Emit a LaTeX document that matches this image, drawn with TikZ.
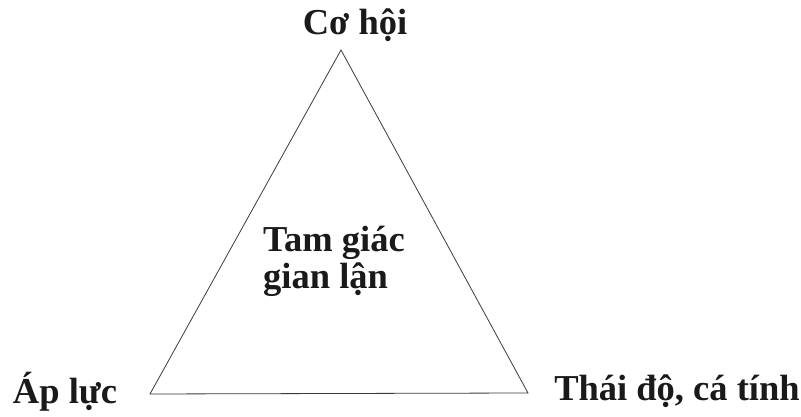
\documentclass[tikz,border=0pt]{standalone}
\usepackage{fontspec}
\setmainfont{Liberation Serif}
\usetikzlibrary{positioning}
\definecolor{ftink}{HTML}{1A1A1A}
\definecolor{ftline}{HTML}{3A3A3A}
\tikzset{
  ftlabel/.style={font=\fontsize{36.5}{37}\selectfont\bfseries, text=ftink, inner sep=0pt},
  ftcenter/.style={ftlabel, align=left},
  ftside/.style={draw=ftline, line width=0.8pt},
}
\begin{document}
\begin{tikzpicture}[x=1pt,y=1pt]
  \useasboundingbox (0,0) rectangle (801,417);
  % corners of the triangle
  \coordinate (top)   at (341,367);
  \coordinate (left)  at (150,23);
  \coordinate (right) at (528,24);
  \draw[ftside] (top) -- (left) -- (right) -- cycle;
  % corner labels
  \node[ftlabel] (coHoi)  at (355,392) {Cơ hội};
  \node[ftlabel] (apLuc)  at (65,25)   {Áp lực};
  \node[ftlabel] (thaiDo) at (677,26)  {Thái độ, cá tính};
  \node[ftcenter] (tamGiac) at (334,156) {Tam giác\\gian lận};
\end{tikzpicture}
\end{document}
